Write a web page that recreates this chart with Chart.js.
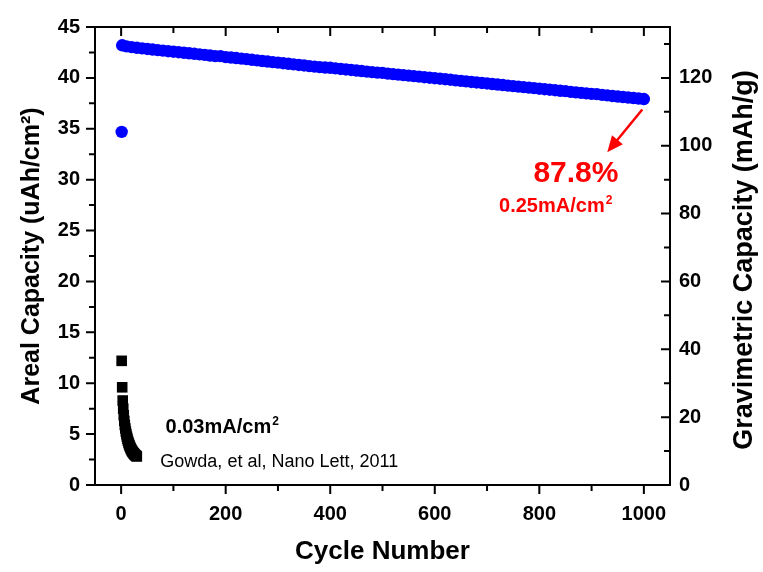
<!DOCTYPE html>
<html>
<head>
<meta charset="utf-8">
<script src="https://cdn.jsdelivr.net/npm/chart.js@4.4.1/dist/chart.umd.min.js"></script>
<style>
  html, body { margin: 0; padding: 0; background: #fff; }
  #wrap { width: 763px; height: 572px; position: relative; }
</style>
</head>
<body>
<div id="wrap"><canvas id="grafica"></canvas></div>
<script>
// Capacidad areal vs numero de ciclo (eje derecho = gravimetrica, x3).

// Serie azul: 0.25 mA/cm2
const ciclosAzul = [1, 2, 10, 20, 30, 40, 50, 60, 70, 80, 90, 100, 110, 120, 130, 140, 150, 160, 170, 180, 190,
  200, 210, 220, 230, 240, 250, 260, 270, 280, 290, 300, 310, 320, 330, 340, 350, 360, 370, 380, 390,
  400, 410, 420, 430, 440, 450, 460, 470, 480, 490, 500, 510, 520, 530, 540, 550, 560, 570, 580, 590,
  600, 610, 620, 630, 640, 650, 660, 670, 680, 690, 700, 710, 720, 730, 740, 750, 760, 770, 780, 790,
  800, 810, 820, 830, 840, 850, 860, 870, 880, 890, 900, 910, 920, 930, 940, 950, 960, 970, 980, 990, 1000];
const capacidadAzul = [34.7, 43.2, 43.1, 43.02, 42.96, 42.9, 42.84, 42.79, 42.73, 42.68, 42.62, 42.57, 42.52, 42.47, 42.42, 42.37, 42.31, 42.26, 42.2, 42.14, 42.14,
  42.04, 42.0, 41.95, 41.89, 41.84, 41.78, 41.72, 41.66, 41.61, 41.55, 41.5, 41.44, 41.39, 41.33, 41.27, 41.22, 41.16, 41.11, 41.06, 41.02,
  40.99, 40.93, 40.88, 40.83, 40.78, 40.72, 40.67, 40.62, 40.57, 40.52, 40.49, 40.42, 40.37, 40.32, 40.27, 40.22, 40.17, 40.12, 40.07, 40.02,
  39.97, 39.92, 39.87, 39.82, 39.76, 39.71, 39.66, 39.6, 39.55, 39.5, 39.45, 39.4, 39.35, 39.3, 39.24, 39.19, 39.14, 39.09, 39.04, 38.99,
  38.94, 38.89, 38.84, 38.79, 38.73, 38.7, 38.63, 38.58, 38.53, 38.48, 38.43, 38.4, 38.33, 38.28, 38.22, 38.17, 38.12, 38.07, 38.02, 37.97, 37.92];

// Serie negra: 0.03 mA/cm2 (Gowda et al.)
const ciclosNegro = [1, 2, 3, 4, 5, 6, 7, 8, 9, 10, 11, 12, 13, 14, 15, 16, 17, 18, 19, 20, 21, 22, 23, 24, 25, 26, 27, 28, 29, 30];
const capacidadNegro = [12.2, 9.6, 8.3, 7.5, 6.85, 6.3, 5.9, 5.55, 5.25, 5.0, 4.75, 4.55, 4.35, 4.18, 4.02, 3.88, 3.75, 3.63, 3.52, 3.42,
  3.33, 3.25, 3.18, 3.11, 3.05, 2.99, 2.94, 2.89, 2.85, 2.81];

// Marcas de los ejes
const ticksX = [0, 200, 400, 600, 800, 1000];
const ticksXMenores = [100, 300, 500, 700, 900];
const ticksIzq = [0, 5, 10, 15, 20, 25, 30, 35, 40, 45];
const ticksIzqMenores = [2.5, 7.5, 12.5, 17.5, 22.5, 27.5, 32.5, 37.5, 42.5];
const ticksDer = [0, 20, 40, 60, 80, 100, 120];
const ticksDerMenores = [10, 30, 50, 70, 90, 110, 130];

const FUENTE = "'Liberation Sans', Arial, sans-serif";
const AZUL = "#0000ff";
const ROJO = "#ff0000";

function fijarTicks(valores) {
  return scale => { scale.ticks = valores.map(value => ({ value })); };
}

function textoConSuper(ctx, base, sup, x, y, size, color) {
  ctx.fillStyle = color;
  ctx.font = `bold ${size}px ${FUENTE}`;
  ctx.textAlign = "left";
  ctx.textBaseline = "alphabetic";
  ctx.fillText(base, x, y);
  const w = ctx.measureText(base).width;
  ctx.font = `bold ${Math.round(size * 0.6)}px ${FUENTE}`;
  ctx.fillText(sup, x + w + 1, y - size * 0.42);
}

// Marco negro y marcas: abajo/izquierda hacia fuera, arriba/derecha hacia dentro
const marcoEjes = {
  id: "marcoEjes",
  afterDraw(chart) {
    const { ctx, chartArea: a, scales } = chart;
    const mayor = 8, menor = 5;
    ctx.save();
    ctx.strokeStyle = "#000";
    ctx.lineWidth = 2;
    ctx.lineCap = "square";
    ctx.strokeRect(a.left, a.top, a.right - a.left, a.bottom - a.top);
    ctx.beginPath();
    const marcaX = (v, len) => {
      const px = scales.x.getPixelForValue(v);
      ctx.moveTo(px, a.bottom); ctx.lineTo(px, a.bottom + len);
      ctx.moveTo(px, a.top); ctx.lineTo(px, a.top + len);
    };
    ticksX.forEach(v => marcaX(v, mayor));
    ticksXMenores.forEach(v => marcaX(v, menor));
    const marcaIzq = (v, len) => {
      const py = scales.y.getPixelForValue(v);
      ctx.moveTo(a.left, py); ctx.lineTo(a.left - len, py);
    };
    ticksIzq.forEach(v => marcaIzq(v, mayor));
    ticksIzqMenores.forEach(v => marcaIzq(v, menor));
    const marcaDer = (v, len) => {
      const py = scales.y2.getPixelForValue(v);
      ctx.moveTo(a.right, py); ctx.lineTo(a.right - len, py);
    };
    ticksDer.forEach(v => marcaDer(v, mayor));
    ticksDerMenores.forEach(v => marcaDer(v, menor));
    ctx.stroke();
    ctx.restore();
  }
};

// Titulo del eje derecho (leido de abajo hacia arriba) y anotaciones
const anotaciones = {
  id: "anotaciones",
  afterDraw(chart) {
    const { ctx, scales } = chart;
    const px = v => scales.x.getPixelForValue(v);
    const py = v => scales.y.getPixelForValue(v);
    ctx.save();

    ctx.save();
    ctx.translate(745, 260);
    ctx.rotate(-Math.PI / 2);
    ctx.fillStyle = "#000";
    ctx.font = `bold 27px ${FUENTE}`;
    ctx.textAlign = "center";
    ctx.textBaseline = "middle";
    ctx.fillText("Gravimetric Capacity (mAh/g)", 0, 0);
    ctx.restore();

    // flecha roja hacia el ultimo ciclo
    const x0 = px(997), y0 = py(36.9), x1 = px(930), y1 = py(32.7);
    const ang = Math.atan2(y1 - y0, x1 - x0);
    ctx.strokeStyle = ROJO;
    ctx.fillStyle = ROJO;
    ctx.lineWidth = 2.5;
    ctx.beginPath();
    ctx.moveTo(x0, y0);
    ctx.lineTo(x1 - 10 * Math.cos(ang), y1 - 10 * Math.sin(ang));
    ctx.stroke();
    ctx.beginPath();
    ctx.moveTo(x1, y1);
    ctx.lineTo(x1 - 16 * Math.cos(ang) + 7 * Math.sin(ang), y1 - 16 * Math.sin(ang) - 7 * Math.cos(ang));
    ctx.lineTo(x1 - 16 * Math.cos(ang) - 7 * Math.sin(ang), y1 - 16 * Math.sin(ang) + 7 * Math.cos(ang));
    ctx.closePath();
    ctx.fill();

    ctx.font = `bold 30px ${FUENTE}`;
    ctx.textAlign = "center";
    ctx.textBaseline = "alphabetic";
    ctx.fillText("87.8%", px(870), py(29.8));

    textoConSuper(ctx, "0.25mA/cm", "2", px(723), py(26.8), 20, ROJO);
    textoConSuper(ctx, "0.03mA/cm", "2", px(85), py(5.1), 20, "#000");

    ctx.fillStyle = "#000";
    ctx.font = `18px ${FUENTE}`;
    ctx.textAlign = "left";
    ctx.fillText("Gowda, et al, Nano Lett, 2011", px(75), py(1.75));
    ctx.restore();
  }
};

const sinRejilla = { display: false, drawTicks: false, tickLength: 0 };
const fuenteTicks = { family: FUENTE, size: 20, weight: "bold" };

new Chart(document.getElementById("grafica"), {
  type: "scatter",
  data: {
    datasets: [
      {
        data: ciclosNegro.map((c, i) => ({ x: c, y: capacidadNegro[i] })),
        backgroundColor: "#000",
        borderWidth: 0,
        pointStyle: "rect",
        pointRadius: 7.5
      },
      {
        data: ciclosAzul.map((c, i) => ({ x: c, y: capacidadAzul[i] })),
        backgroundColor: AZUL,
        borderWidth: 0,
        pointStyle: "circle",
        pointRadius: 6.2
      }
    ]
  },
  options: {
    responsive: true,
    maintainAspectRatio: false,
    animation: false,
    events: [],
    layout: { padding: { top: 18, left: 0, right: 0, bottom: 0 } },
    plugins: { legend: { display: false }, tooltip: { enabled: false } },
    scales: {
      x: {
        type: "linear",
        position: "bottom",
        min: -50,
        max: 1050,
        afterBuildTicks: fijarTicks(ticksX),
        afterFit: scale => { scale.height = 87; },
        grid: sinRejilla,
        border: { display: false },
        ticks: { color: "#000", font: fuenteTicks, padding: 17, maxRotation: 0, callback: value => `${value}` },
        title: { display: true, text: "Cycle Number", color: "#000", font: { family: FUENTE, size: 26, weight: "bold" }, padding: { top: 0, bottom: 5 } }
      },
      y: {
        position: "left",
        min: 0,
        max: 45,
        afterBuildTicks: fijarTicks(ticksIzq),
        afterFit: scale => { scale.width = 95; },
        grid: sinRejilla,
        border: { display: false },
        ticks: { color: "#000", font: fuenteTicks, padding: 15 },
        title: { display: true, text: "Areal Capacity (uAh/cm²)", color: "#000", font: { family: FUENTE, size: 25, weight: "bold" }, padding: { top: 17, bottom: 0 } }
      },
      y2: {
        position: "right",
        min: 0,
        max: 135,
        afterBuildTicks: fijarTicks(ticksDer),
        afterFit: scale => { scale.width = 93; },
        grid: sinRejilla,
        border: { display: false },
        ticks: { color: "#000", font: fuenteTicks, padding: 9 }
      }
    }
  },
  plugins: [marcoEjes, anotaciones]
});
</script>
</body>
</html>
